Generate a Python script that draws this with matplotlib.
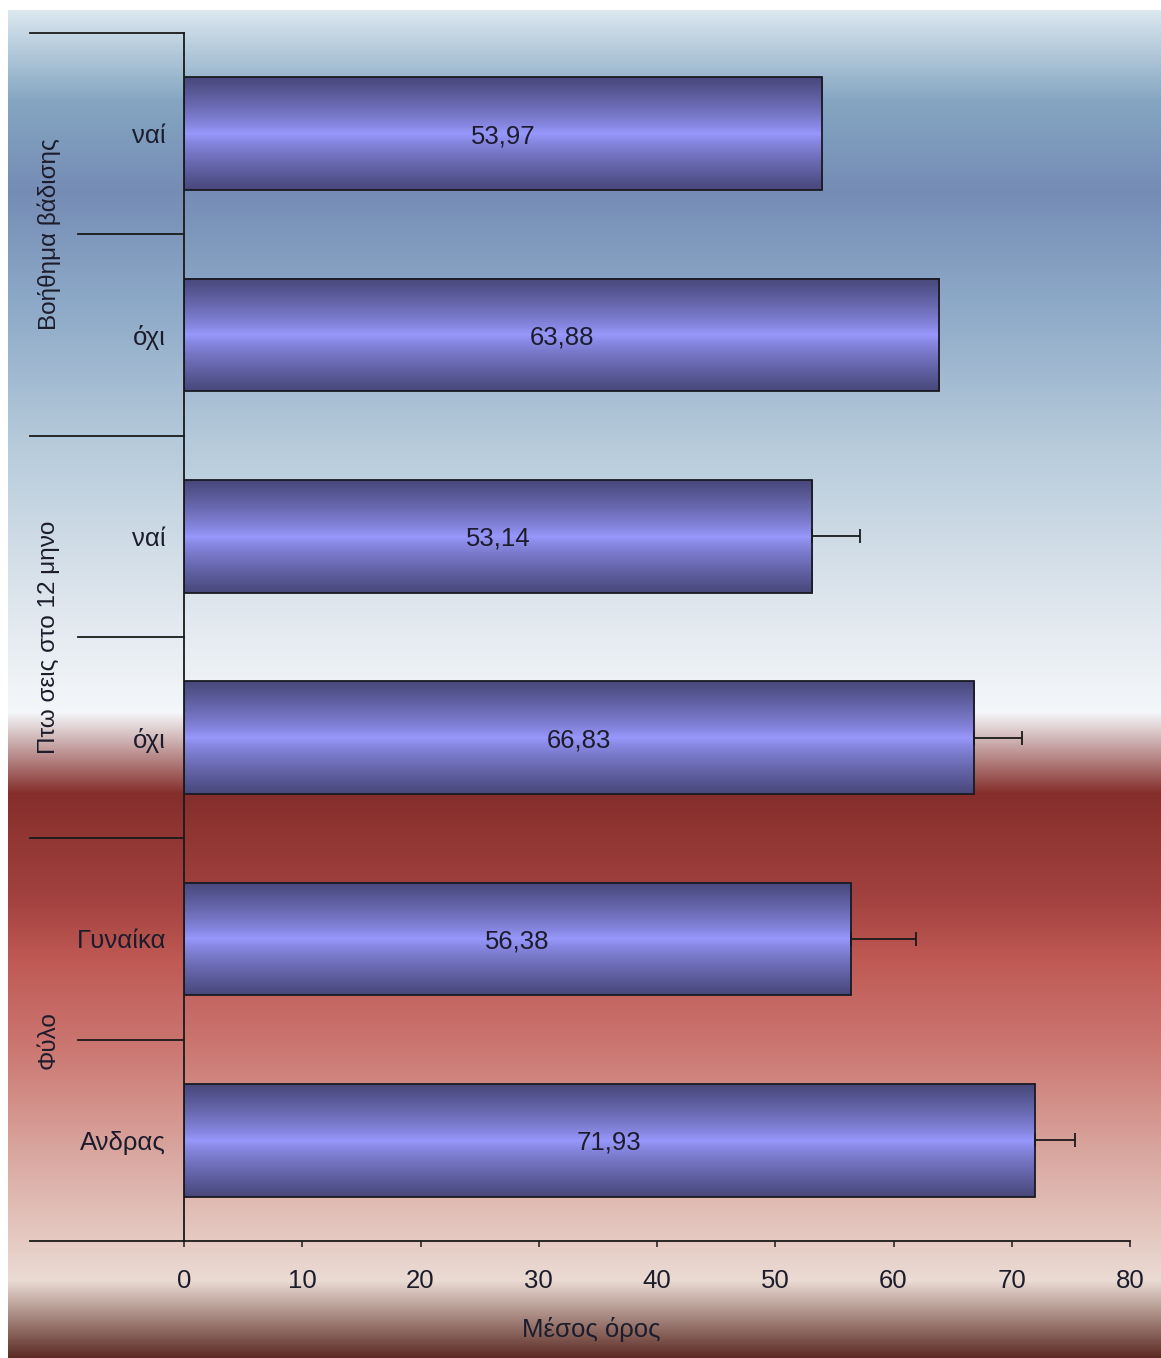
import numpy as np
import matplotlib
matplotlib.use("Agg")
import matplotlib.pyplot as plt

plt.rcParams['font.family'] = ['Liberation Sans', 'DejaVu Sans']

# ---- data -------------------------------------------------------------
groups = ["Βοήθημα βάδισης", "Πτω σεις στο 12 μηνο", "Φύλο"]
group_sizes = [2, 2, 2]
categories = ["ναί", "όχι", "ναί", "όχι", "Γυναίκα", "Ανδρας"]
means = [53.97, 63.88, 53.14, 66.83, 56.38, 71.93]
upper_err = [None, None, 4.03, 4.04, 5.52, 3.42]
xticks = [0, 10, 20, 30, 40, 50, 60, 70, 80]
xlabel = "Μέσος όρος"

# ---- figure -------------------------------------------------------------
W, H = 1161, 1358
fig = plt.figure(figsize=(W / 100, H / 100), dpi=100)
fig.patch.set_facecolor("white")

# background: blue sky fading to white, then deep red fading to rose
stops_y = [10, 100, 190, 300, 450, 600, 712, 793, 900, 960, 1050, 1150, 1280, 1358]
stops_c = [
    (0.86, 0.91, 0.94),
    (0.52, 0.65, 0.76),
    (0.46, 0.55, 0.71),
    (0.55, 0.66, 0.78),
    (0.72, 0.80, 0.86),
    (0.87, 0.90, 0.93),
    (0.96, 0.97, 0.98),
    (0.52, 0.18, 0.17),
    (0.64, 0.26, 0.25),
    (0.75, 0.35, 0.33),
    (0.80, 0.47, 0.45),
    (0.85, 0.65, 0.62),
    (0.92, 0.86, 0.83),
    (0.35, 0.16, 0.13),
]
rows = np.arange(10, H)
sc = np.array(stops_c)
bg_img = np.stack([np.interp(rows, stops_y, sc[:, k]) for k in range(3)], axis=1)[:, None, :]
bg = fig.add_axes([8 / W, 0, 1 - 8 / W, (H - 10) / H])
bg.imshow(bg_img, aspect="auto", interpolation="bilinear")
bg.axis("off")

# main plotting area
ax = fig.add_axes([184 / W, (H - 1241) / H, 946 / W, 1208 / H])
ax.set_facecolor("none")

n = len(categories)
bar_h = 0.56
edge_dark = np.array([0.28, 0.28, 0.48])
center_light = np.array([0.60, 0.60, 1.00])
t = np.abs(np.linspace(-1, 1, 200)) ** 0.8
bar_grad = (center_light[None, :] * (1 - t[:, None]) + edge_dark[None, :] * t[:, None])[:, None, :]

bars = ax.barh(range(n), means, height=bar_h, facecolor="none",
               edgecolor="#1a1a22", linewidth=1.3, zorder=3)
for i, (rect, v) in enumerate(zip(bars, means)):
    ax.imshow(bar_grad, extent=[0, v, i + bar_h / 2, i - bar_h / 2],
              aspect="auto", interpolation="bilinear", zorder=2)
    ax.text(v / 2, i, f"{v:.2f}".replace(".", ","), ha="center",
            va="center_baseline", fontsize=18.5, color="#1c1c2c", zorder=4)

# one-sided error bars
for i, (v, e) in enumerate(zip(means, upper_err)):
    if e is None:
        continue
    ax.errorbar(v, i, xerr=[[0], [e]], fmt="none", ecolor="#1a1a1a",
                elinewidth=1.3, capsize=5, capthick=1.3, zorder=3)

ax.set_xlim(0, 80)
ax.set_ylim(n - 0.5, -0.5)
ax.set_xticks(xticks)
ax.set_xticklabels([str(x) for x in xticks])
ax.set_yticks(range(n))
ax.set_yticklabels(categories, va="center_baseline")
ax.tick_params(axis="y", length=0, pad=13, labelsize=18.5, labelcolor="#1c1c2c")
ax.tick_params(axis="x", length=4.5, width=1.1, direction="out", pad=16,
               labelsize=18.5, labelcolor="#1c1c2c", color="#1a1a1a")
for s in ["top", "right"]:
    ax.spines[s].set_visible(False)
for s in ["left", "bottom"]:
    ax.spines[s].set_linewidth(1.3)
    ax.spines[s].set_color("#1a1a1a")

# group separators on the category axis
trans = ax.get_yaxis_transform()
x_long = (30 - 184) / 946
x_short = (78 - 184) / 946
boundaries = [-0.5]
for g in group_sizes:
    boundaries.append(boundaries[-1] + g)
for b in boundaries:
    ax.plot([x_long, 0], [b, b], color="#1a1a1a", lw=1.3, transform=trans, clip_on=False)
start = -0.5
for g in group_sizes:
    for k in range(1, g):
        yb = start + k
        ax.plot([x_short, 0], [yb, yb], color="#1a1a1a", lw=1.3, transform=trans, clip_on=False)
    start += g

# group names, rotated
start = -0.5
for name, g in zip(groups, group_sizes):
    yc = start + g / 2
    ax.text(x_long + (49 - 30) / 946, yc, name, rotation=90, ha="center", va="center",
            fontsize=17.5, color="#1c1c2c", transform=trans)
    start += g

fig.text(591 / W, 1 - 1330 / H, xlabel, ha="center", va="center",
         fontsize=18.5, color="#1c1c2c")

fig.savefig("out.png", dpi=100)
